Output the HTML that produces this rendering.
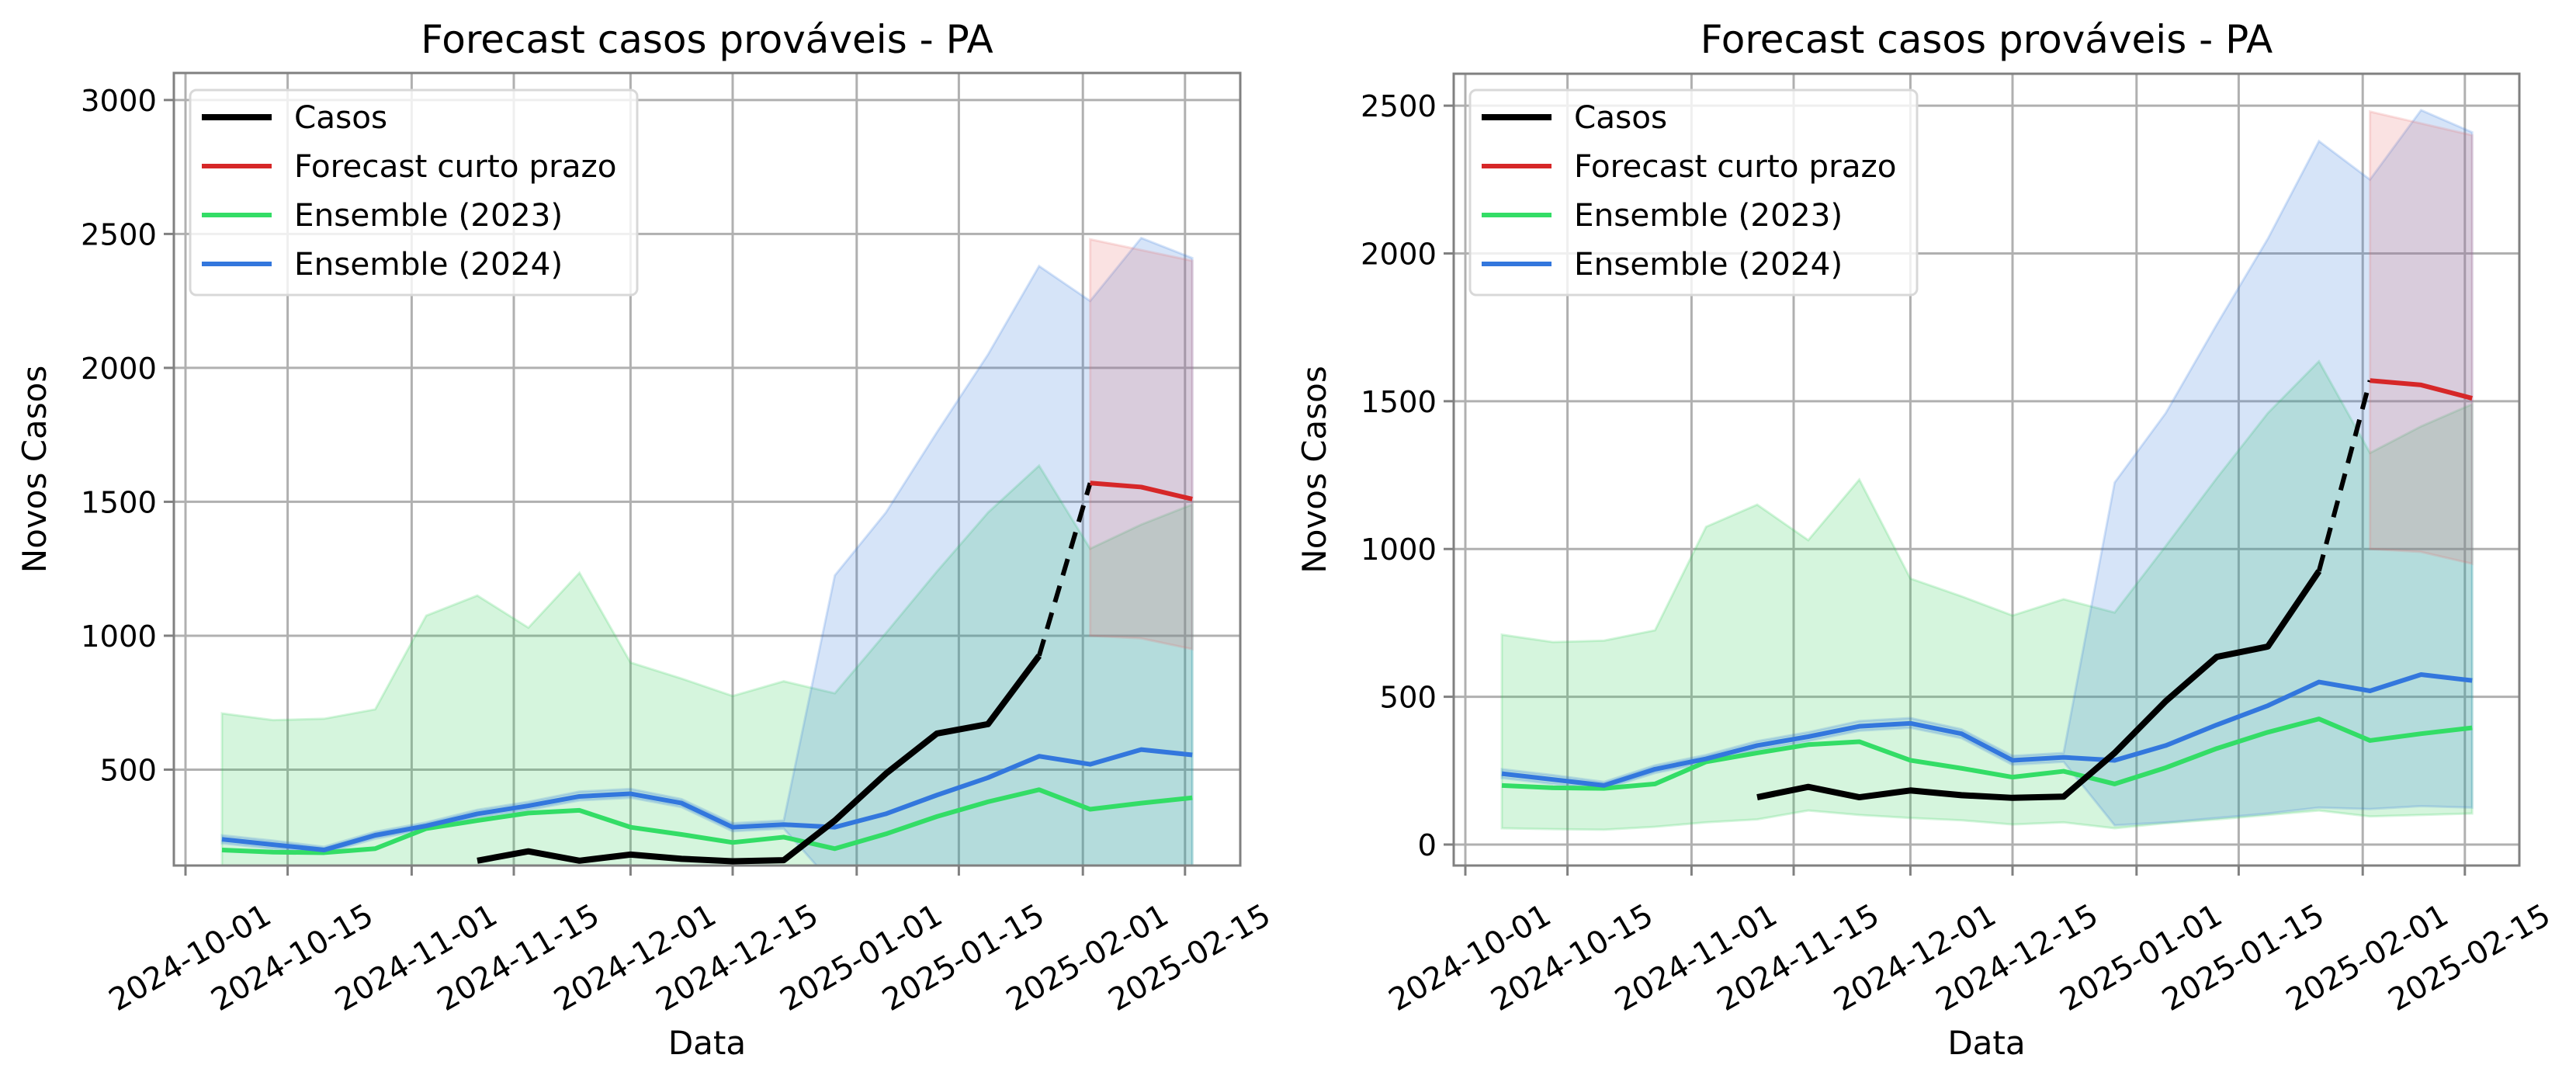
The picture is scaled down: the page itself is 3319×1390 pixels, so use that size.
<!DOCTYPE html>
<html><head><meta charset="utf-8"><style>
body{margin:0;background:#fff;}
svg{display:block;font-family:"DejaVu Sans","Liberation Sans",sans-serif;}
</style></head><body>
<svg id="fig" width="3319" height="1390" viewBox="0 0 3319 1390" xmlns="http://www.w3.org/2000/svg"></svg>
<script>
const dates = ["2024-10-06","2024-10-13","2024-10-20","2024-10-27","2024-11-03","2024-11-10","2024-11-17","2024-11-24","2024-12-01","2024-12-08","2024-12-15","2024-12-22","2024-12-29","2025-01-05","2025-01-12","2025-01-19","2025-01-26","2025-02-02","2025-02-09","2025-02-16"];
const ens23Median = [200,192,190,205,280,310,338,348,285,258,228,248,205,260,325,380,425,352,375,395];
const ens23Upper = [710,685,690,725,1075,1150,1030,1235,900,840,775,830,785,1010,1240,1460,1635,1325,1415,1490];
const ens23Lower = [55,52,50,60,75,85,115,100,90,82,68,75,55,72,85,100,115,95,100,105];
const ens24Median = [240,220,200,255,290,335,365,400,410,375,285,295,285,335,405,470,550,520,575,555];
const ens24Upper = [255,235,212,268,303,350,380,418,428,390,300,310,1225,1460,1760,2050,2380,2250,2485,2410];
const ens24Lower = [225,205,188,242,277,320,350,385,395,360,270,280,65,75,90,105,125,120,130,125];
const casosDates = ["2024-11-10","2024-11-17","2024-11-24","2024-12-01","2024-12-08","2024-12-15","2024-12-22","2024-12-29","2025-01-05","2025-01-12","2025-01-19","2025-01-26"];
const casosValues = [160,195,160,183,167,158,162,310,485,635,670,925];
const fcDates = ["2025-02-02","2025-02-09","2025-02-16"];
const fcMedian = [1570,1555,1510];
const fcUpper = [2480,2440,2400];
const fcLower = [1000,990,950];
const xTickLabels = ["2024-10-01","2024-10-15","2024-11-01","2024-11-15","2024-12-01","2024-12-15","2025-01-01","2025-01-15","2025-02-01","2025-02-15"];
const yTicksLeft = [500,1000,1500,2000,2500,3000];
const yTicksRight = [0,500,1000,1500,2000,2500];
const legendLabels = ["Casos","Forecast curto prazo","Ensemble (2023)","Ensemble (2024)"];

const NS="http://www.w3.org/2000/svg";
const svg=document.getElementById('fig');
function mk(tag,attrs,parent){const e=document.createElementNS(NS,tag);for(const k in attrs)e.setAttribute(k,attrs[k]);(parent||svg).appendChild(e);return e;}
const DAY0=Date.UTC(2024,9,1);
function dayOf(s){const p=s.split('-');return (Date.UTC(+p[0],+p[1]-1,+p[2])-DAY0)/86400000;}

const panels=[
 {name:'left',L:224,R:1598,T:94,B:1115,x0:239,ppd:9.40,ymin:142,ymax:3101,yticks:yTicksLeft},
 {name:'right',L:1873,R:3246,T:95,B:1115,x0:1888,ppd:9.40,ymin:-71,ymax:2608,yticks:yTicksRight}
];
const C={black:'#000',red:'#d62728',green:'#33dd66',blue:'#3377dd'};

panels.forEach((P,pi)=>{
 const g=mk('g',{});
 
 
 const X=d=>P.x0+dayOf(d)*P.ppd;
 const Y=v=>P.B-(v-P.ymin)/(P.ymax-P.ymin)*(P.B-P.T);
 const cid='clip'+pi;
 const defs=mk('defs',{},g);
 const cp=mk('clipPath',{id:cid},defs);
 mk('rect',{x:P.L,y:P.T,width:P.R-P.L,height:P.B-P.T},cp);
 const grid=mk('g',{stroke:'#b0b0b0','stroke-width':3},g);
 
 
 xTickLabels.forEach(t=>{const x=X(t);mk('line',{x1:x,x2:x,y1:P.T,y2:P.B},grid);});
 P.yticks.forEach(v=>{const y=Y(v);mk('line',{x1:P.L,x2:P.R,y1:y,y2:y},grid);});
 const plot=mk('g',{'clip-path':'url(#'+cid+')'},g);
 function band(ds,up,lo,col,nm){
  let pts=ds.map((d,i)=>X(d)+','+Y(up[i]));
  for(let i=ds.length-1;i>=0;i--)pts.push(X(ds[i])+','+Y(lo[i]));
  const p=mk('polygon',{points:pts.join(' '),fill:col,'fill-opacity':0.2,stroke:col,'stroke-opacity':0.2,'stroke-width':3},plot);
  
  
 }
 function line(ds,vals,col,w,nm,dash){
  const pts=ds.map((d,i)=>X(d)+','+Y(vals[i])).join(' ');
  const a={points:pts,fill:'none',stroke:col,'stroke-width':w,'stroke-linejoin':'round'};
  if(dash)a['stroke-dasharray']=dash;
  const p=mk('polyline',a,plot);
  
  
 }
 band(dates,ens23Upper,ens23Lower,'#2ecc55','ensemble-2023-band');
 band(dates,ens24Upper,ens24Lower,'#3377dd','ensemble-2024-band');
 band(fcDates,fcUpper,fcLower,'#e87070','forecast-band');
 line(dates,ens23Median,C.green,6,'ensemble-2023-line');
 line(dates,ens24Median,C.blue,6,'ensemble-2024-line');
 line(casosDates,casosValues,C.black,8,'casos-line');
 line([casosDates[casosDates.length-1],fcDates[0]],[casosValues[casosValues.length-1],fcMedian[0]],C.black,6,'casos-forecast-connector','22,14');
 line(fcDates,fcMedian,C.red,6,'forecast-line');
 const sp=mk('rect',{x:P.L,y:P.T,width:P.R-P.L,height:P.B-P.T,fill:'none',stroke:'#808080','stroke-width':3},g);
 
 
 xTickLabels.forEach(t=>{
  const x=X(t);
  mk('line',{x1:x,x2:x,y1:P.B,y2:P.B+13,stroke:'#808080','stroke-width':3},g);
  const tx=mk('text',{x:0,y:0,'font-size':40,'text-anchor':'middle','dominant-baseline':'central',transform:'translate('+(x+6)+',1234) rotate(-30)'},g);
  tx.textContent=t;
  
  
 });
 P.yticks.forEach(v=>{
  const y=Y(v);
  mk('line',{x1:P.L-13,x2:P.L,y1:y,y2:y,stroke:'#808080','stroke-width':3},g);
  const tx=mk('text',{x:P.L-22,y:y+14,'font-size':38.5,'text-anchor':'end'},g);
  tx.textContent=v;
  
  
 });
 const cx=(P.L+P.R)/2;
 const ti=mk('text',{x:cx,y:68,'font-size':50,'text-anchor':'middle'},g);
 ti.textContent='Forecast casos prováveis - PA';
 
 
 const xl=mk('text',{x:cx,y:1358,'font-size':42,'text-anchor':'middle'},g);
 xl.textContent='Data';
 
 
 const yl=mk('text',{x:0,y:0,'font-size':42,'text-anchor':'middle',transform:'translate('+(P.L-165)+','+((P.T+P.B)/2)+') rotate(-90)'},g);
 yl.textContent='Novos Casos';
 
 
 const off=P.L-224;
 const lg=mk('g',{},g);
 
 
 mk('rect',{x:245+off,y:116,width:576,height:264,rx:8,fill:'#fff','fill-opacity':0.8,stroke:'#d8d8d8','stroke-width':3},lg);
 const cols=[C.black,C.red,C.green,C.blue];
 legendLabels.forEach((lab,i)=>{
  const y=151+i*63;
  mk('line',{x1:260+off,x2:350+off,y1:y,y2:y,stroke:cols[i],'stroke-width':i==0?8:6},lg);
  const tx=mk('text',{x:379+off,y:y+14,'font-size':40.5},lg);
  tx.textContent=lab;
  
  
 });
});
</script>
</body></html>
